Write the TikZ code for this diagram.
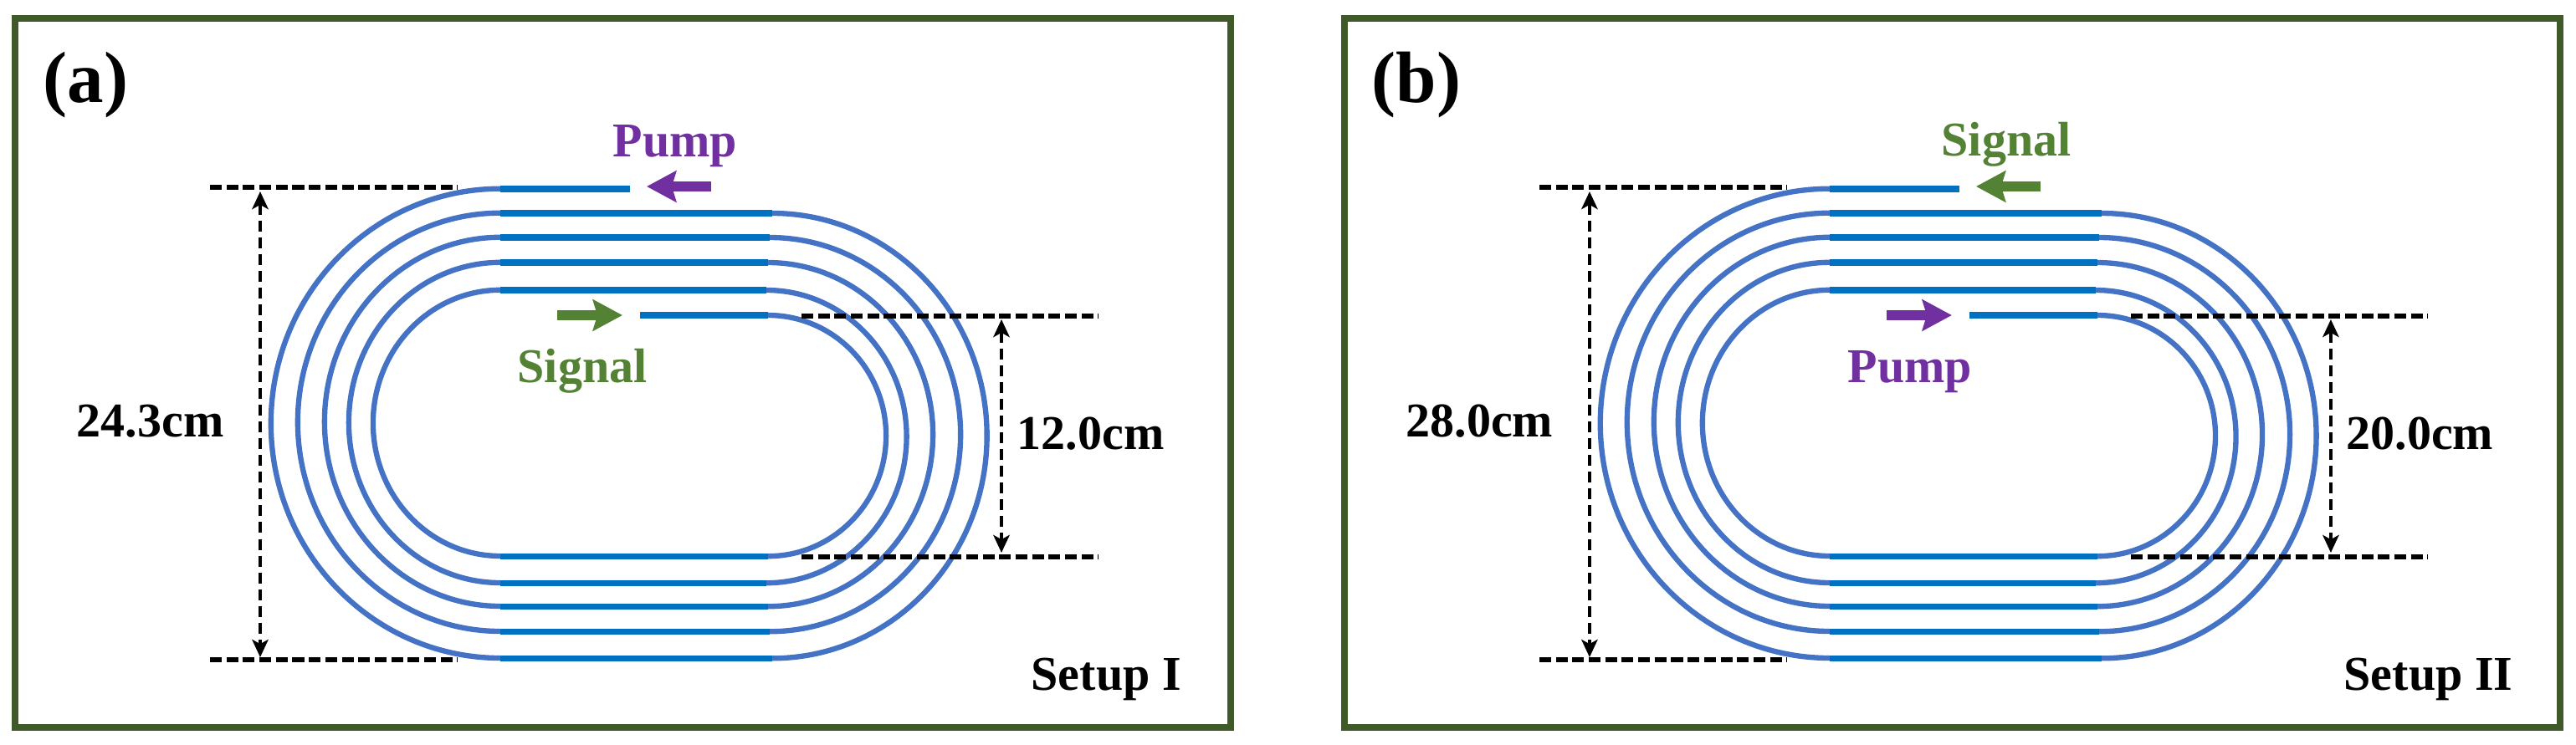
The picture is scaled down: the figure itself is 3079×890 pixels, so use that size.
\documentclass[tikz,border=0pt]{standalone}
\usepackage{fontspec}
\setmainfont{Liberation Serif}
\usetikzlibrary{positioning, arrows.meta, calc}
\definecolor{frame_green}{HTML}{3F5A28}
\definecolor{signal_green}{HTML}{548235}
\definecolor{pump_purple}{HTML}{7030A0}
\definecolor{straight_blue}{HTML}{0070C0}
\definecolor{bend_blue}{HTML}{4472C4}
\tikzstyle{panel_frame} = [draw=frame_green, line width=2.28pt]
\tikzstyle{track_line} = [draw=straight_blue, line width=2pt]
\tikzstyle{track_bend} = [draw=bend_blue, line width=1.8pt]
\tikzstyle{limit_line} = [line width=1.5pt, dash pattern=on 4pt off 1.6pt]
\tikzstyle{size_arrow} = [line width=1.1pt, dash pattern=on 3.7pt off 2pt, {Stealth[length=6pt,width=5.5pt,inset=1.5pt]}-{Stealth[length=6pt,width=5.5pt,inset=1.5pt]}]
\tikzstyle{block_arrow} = [line width=3.6pt, -{Stealth[length=10pt,width=10.5pt,inset=1.5pt]}]
\tikzstyle{panel_label} = [anchor=base west, inner sep=0pt, font=\fontsize{24.75}{28}\selectfont\bfseries]
\tikzstyle{text_label} = [anchor=base west, inner sep=0pt, font=\fontsize{16.5}{20}\selectfont\bfseries]

\newcommand{\racetrack}{
    \draw[track_line] (765,377) -- (918,377);
    \draw[track_bend] (918,377) arc[start angle=90, end angle=-90, x radius=1.41cm, y radius=1.44cm];
    \draw[track_line] (918,665) -- (598,665);
    \draw[track_bend] (598,665) arc[start angle=270, end angle=90, x radius=1.52cm, y radius=1.59cm];
    \draw[track_line] (598,347) -- (916,347);
    \draw[track_bend] (916,347) arc[start angle=90, end angle=-90, x radius=1.675cm, y radius=1.75cm];
    \draw[track_line] (916,697) -- (598,697);
    \draw[track_bend] (598,697) arc[start angle=270, end angle=90, x radius=1.81cm, y radius=1.915cm];
    \draw[track_line] (598,314) -- (918,314);
    \draw[track_bend] (918,314) arc[start angle=90, end angle=-90, x radius=1.97cm, y radius=2.055cm];
    \draw[track_line] (918,725) -- (598,725);
    \draw[track_bend] (598,725) arc[start angle=270, end angle=90, x radius=2.10cm, y radius=2.205cm];
    \draw[track_line] (598,284) -- (920,284);
    \draw[track_bend] (920,284) arc[start angle=90, end angle=-90, x radius=2.28cm, y radius=2.355cm];
    \draw[track_line] (920,755) -- (598,755);
    \draw[track_bend] (598,755) arc[start angle=270, end angle=90, x radius=2.42cm, y radius=2.50cm];
    \draw[track_line] (598,255) -- (923,255);
    \draw[track_bend] (923,255) arc[start angle=90, end angle=-90, x radius=2.565cm, y radius=2.66cm];
    \draw[track_line] (923,787) -- (598,787);
    \draw[track_bend] (598,787) arc[start angle=270, end angle=90, x radius=2.74cm, y radius=2.805cm];
    \draw[track_line] (598,226) -- (753,226);

    \coordinate (outer_top_left) at (251,224);
    \coordinate (outer_top_right) at (547,224);
    \coordinate (outer_low_left) at (251,789);
    \coordinate (outer_low_right) at (547,789);
    \coordinate (inner_top_left) at (958,378);
    \coordinate (inner_top_right) at (1313,378);
    \coordinate (inner_low_left) at (958,666);
    \coordinate (inner_low_right) at (1313,666);
    \coordinate (outer_arrow_top) at (311,229);
    \coordinate (outer_arrow_low) at (311,786);
    \coordinate (inner_arrow_top) at (1197,382);
    \coordinate (inner_arrow_low) at (1197,661);
    \coordinate (top_tail) at (850,223);
    \coordinate (top_tip) at (773,223);
    \coordinate (low_tail) at (666,377);
    \coordinate (low_tip) at (744,377);

    \draw[limit_line] (outer_top_left) -- (outer_top_right);
    \draw[limit_line] (outer_low_left) -- (outer_low_right);
    \draw[limit_line] (inner_top_left) -- (inner_top_right);
    \draw[limit_line] (inner_low_left) -- (inner_low_right);
    \draw[size_arrow] (outer_arrow_top) -- (outer_arrow_low);
    \draw[size_arrow] (inner_arrow_top) -- (inner_arrow_low);
}

\begin{document}
\begin{tikzpicture}[x=0.01cm, y=-0.01cm]
    \useasboundingbox (0,0) rectangle (3079,890);

    \begin{scope}[name prefix=a_]
        \draw[panel_frame] (18,22) rectangle (1471,870);
        \racetrack
        \draw[block_arrow, pump_purple] (top_tail) -- (top_tip);
        \draw[block_arrow, signal_green] (low_tail) -- (low_tip);
        \node (panel) [panel_label] at (51,122) {(a)};
        \node (pump) [text_label, pump_purple] at (732,187) {Pump};
        \node (signal) [text_label, signal_green] at (618,457) {Signal};
        \node (outer_size) [text_label] at (91,522) {24.3cm};
        \node (inner_size) [text_label] at (1215,537) {12.0cm};
        \node (setup) [text_label] at (1232,825) {Setup I};
    \end{scope}

    \begin{scope}[xshift=15.88cm, name prefix=b_]
        \draw[panel_frame] (18,22) rectangle (1471,870);
        \racetrack
        \draw[block_arrow, signal_green] (top_tail) -- (top_tip);
        \draw[block_arrow, pump_purple] (low_tail) -- (low_tip);
        \node (panel) [panel_label] at (50,122) {(b)};
        \node (signal) [text_label, signal_green] at (731,186) {Signal};
        \node (pump) [text_label, pump_purple] at (619,457) {Pump};
        \node (outer_size) [text_label] at (91,522) {28.0cm};
        \node (inner_size) [text_label] at (1215,537) {20.0cm};
        \node (setup) [text_label] at (1212,825) {Setup II};
    \end{scope}
\end{tikzpicture}
\end{document}
